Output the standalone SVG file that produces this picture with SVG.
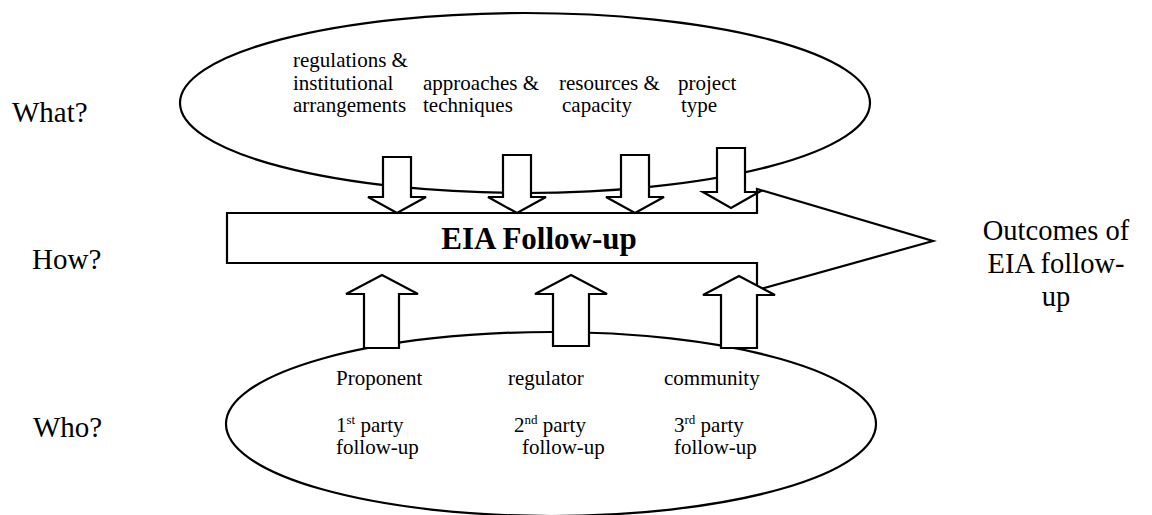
<svg xmlns="http://www.w3.org/2000/svg" width="1152" height="515" viewBox="0 0 1152 515">
  <style>
    .line { fill: #fff; stroke: #000; stroke-width: 2.2; stroke-linejoin: miter; }
    .side { font-family: "Liberation Serif", "Times New Roman", serif; font-size: 29px; fill: #000; }
    .out { font-family: "Liberation Serif", "Times New Roman", serif; font-size: 28.5px; fill: #000; }
    .item { font-family: "Liberation Serif", "Times New Roman", serif; font-size: 21px; fill: #000; }
    .sup { font-size: 13px; }
    .title { font-family: "Liberation Serif", "Times New Roman", serif; font-size: 31px; font-weight: bold; fill: #000; }
  </style>
  <rect width="1152" height="515" fill="#fff"/>

  <!-- row labels -->
  <g id="row-labels">
    <text class="side" x="12" y="122">What?</text>
    <text class="side" x="32" y="269">How?</text>
    <text class="side" x="33" y="437">Who?</text>
  </g>

  <!-- What? : factors -->
  <g id="what">
    <ellipse class="line" cx="525" cy="103" rx="345" ry="90"/>
    <text class="item" x="293" y="67">regulations &amp;</text>
    <text class="item" x="293" y="90">institutional</text>
    <text class="item" x="293" y="112">arrangements</text>
    <text class="item" x="423" y="90">approaches &amp;</text>
    <text class="item" x="423" y="112">techniques</text>
    <text class="item" x="559" y="90">resources &amp;</text>
    <text class="item" x="562" y="112">capacity</text>
    <text class="item" x="678" y="90">project</text>
    <text class="item" x="681" y="112">type</text>
  </g>

  <!-- Who? : parties -->
  <g id="who">
    <ellipse class="line" cx="551" cy="424" rx="325" ry="92"/>
    <text class="item" x="336" y="385">Proponent</text>
    <text class="item" x="336" y="432">1<tspan class="sup" dy="-8">st</tspan><tspan dy="8"> party</tspan></text>
    <text class="item" x="336" y="454">follow-up</text>
    <text class="item" x="508" y="385">regulator</text>
    <text class="item" x="514" y="432">2<tspan class="sup" dy="-8">nd</tspan><tspan dy="8"> party</tspan></text>
    <text class="item" x="522" y="454">follow-up</text>
    <text class="item" x="664" y="385">community</text>
    <text class="item" x="674" y="432">3<tspan class="sup" dy="-8">rd</tspan><tspan dy="8"> party</tspan></text>
    <text class="item" x="674" y="454">follow-up</text>
  </g>

  <!-- How? : EIA follow-up block arrow -->
  <g id="how">
    <path class="line" d="M227,213 H757 V189 L933,241 L757,290 V263 H227 Z"/>
    <text class="title" x="539" y="249" text-anchor="middle">EIA Follow-up</text>
  </g>

  <!-- inputs into the follow-up -->
  <g id="connectors">
    <path class="line" d="M383,157 H411 V197 H426 L397,213 L368,197 H383 Z"/>
    <path class="line" d="M503,155 H531 V197 H546 L517,213 L488,197 H503 Z"/>
    <path class="line" d="M621,155 H649 V197 H664 L635,213 L606,197 H621 Z"/>
    <path class="line" d="M717,148 H745 V192 H759 L731,208 L703,192 H717 Z"/>
    <path class="line" d="M364,348 H399 V294 H418 L382,275 L346,294 H364 Z"/>
    <path class="line" d="M553,346 H589 V294 H607 L571,275 L535,294 H553 Z"/>
    <path class="line" d="M721,348 H757 V295 H775 L739,276 L703,295 H721 Z"/>
  </g>

  <g id="outcomes">
    <text class="out" x="1056" y="240" text-anchor="middle">Outcomes of</text>
    <text class="out" x="1056" y="273" text-anchor="middle">EIA follow-</text>
    <text class="out" x="1056" y="306" text-anchor="middle">up</text>
  </g>
</svg>
